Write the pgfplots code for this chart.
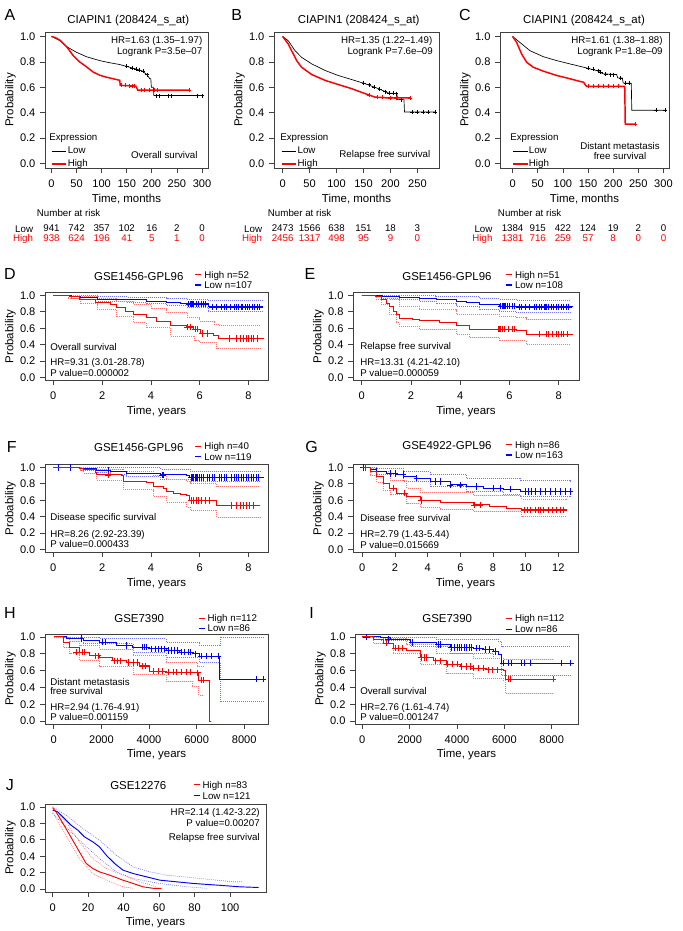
\documentclass[border=0pt]{standalone}
\usepackage{fontspec}
\setmainfont{Liberation Sans}
\usepackage{pgfplots}
\pgfplotsset{compat=1.18}
\usetikzlibrary{calc}
% 1 px of the reference = 0.75pt
\tikzset{px/.style={x=0.75pt, y=-0.75pt}}
\newcommand\fTick{\fontsize{8.3}{9}\selectfont}
\newcommand\fLab{\fontsize{8.6}{10}\selectfont}
\newcommand\fAnn{\fontsize{7.3}{8.5}\selectfont}
\newcommand\fLet{\fontsize{12}{14}\selectfont}
% short legend key: colour, then text
\newcommand\key[2]{\textcolor{#1}{\rule[0.55ex]{4.5pt}{0.8pt}}\hspace{2.3pt}#2}
\pgfplotsset{
  km/.style={
    scale only axis, anchor=north west, clip mode=individual,
    axis line style={line width=0.5pt, black!75},
    tick style={line width=0.5pt, black!75},
    tick align=outside, major tick length=3.5pt, tick pos=left,
    ymin=-0.035, ymax=1.035, ytick={0,0.2,0.4,0.6,0.8,1.0},
    yticklabel style={/pgf/number format/fixed, /pgf/number format/fixed zerofill,
      /pgf/number format/precision=1, inner sep=3.5pt},
    xticklabel style={inner sep=2pt, yshift=-3pt},
    ticklabel style={font=\fTick},
    /pgf/number format/assume math mode=true,
    label style={font=\fLab},
    xlabel style={at={($(rel axis cs:0.5,0)+(0pt,-23pt)$)}, anchor=center},
    ylabel style={at={($(rel axis cs:0,0.5)+(-26pt,0pt)$)}, anchor=center},
    ylabel={Probability},
  },
  top/.style={km,
    legend style={draw=none, fill=none, font=\fAnn, inner sep=0pt, row sep=2.3pt,
      nodes={inner sep=0.5pt}},
    legend cell align=left,
    legend image code/.code={\draw[##1] (0pt,0pt) -- (11pt,0pt);},
  },
  low/.style={km, xlabel={Time, years}},
  cur/.style={const plot, line width=0.7pt},
  ci/.style={const plot, line width=0.5pt, dash pattern=on 0.6pt off 0.9pt},
  cen/.style={only marks, mark=+, mark size=2.4pt, mark options={line width=0.45pt}},
  cens/.style={only marks, mark=+, mark size=1.5pt, mark options={line width=0.4pt}},
}
\tikzset{ann/.style={font=\fAnn, anchor=west, inner sep=0pt}}
\begin{document}
\begin{tikzpicture}
\useasboundingbox (0pt,0pt) rectangle (511.5pt,-698.25pt);

%%%%%%%%%%%%%%%% A
\begin{axis}[top, at={(33.75pt,-24pt)}, width=122.25pt, height=102pt,
  xmin=-13, xmax=312, xtick={0,50,...,300}, xlabel={Time, months},
  legend style={at={(rel axis cs:0.035,0.165)}, anchor=north west}]
\addlegendimage{black, line width=0.5pt}\addlegendentry{Low}
\addlegendimage{red, line width=1.1pt}\addlegendentry{High}
\addplot[black, line width=0.5pt] coordinates {(0,1) (5,0.99) (17,0.966) (30,0.92) (50,0.875) (70,0.84) (96,0.81) (115,0.794) (136,0.779) (160,0.753) (172,0.74) (180,0.73) (190,0.70) (196,0.667) (198,0.667) (199,0.60) (203,0.60) (204,0.535) (303,0.535)};
\addplot[black, cens] coordinates {(150,0.765) (160,0.753) (168,0.745) (175,0.737) (182,0.725) (190,0.70) (208,0.535) (215,0.535) (232,0.535) (238,0.535) (290,0.535) (300,0.535)};
\addplot[red, line width=1.1pt] coordinates {(0,1) (8,0.99) (17,0.97) (30,0.92) (43,0.85) (56,0.80) (70,0.76) (83,0.72) (96,0.695) (109,0.68) (125,0.665) (136,0.655) (137,0.615) (168,0.61) (172,0.577) (275,0.577)};
\addplot[red, cens] coordinates {(140,0.615) (148,0.615) (155,0.612) (160,0.61) (165,0.61) (178,0.577) (185,0.577) (195,0.577) (205,0.577) (210,0.577) (275,0.577)};
\node[font=\fAnn] at (axis cs:0,-0.51) {941};
\node[font=\fAnn] at (axis cs:50,-0.51) {742};
\node[font=\fAnn] at (axis cs:100,-0.51) {357};
\node[font=\fAnn] at (axis cs:150,-0.51) {102};
\node[font=\fAnn] at (axis cs:200,-0.51) {16};
\node[font=\fAnn] at (axis cs:250,-0.51) {2};
\node[font=\fAnn] at (axis cs:300,-0.51) {0};
\node[font=\fAnn, red] at (axis cs:0,-0.588) {938};
\node[font=\fAnn, red] at (axis cs:50,-0.588) {624};
\node[font=\fAnn, red] at (axis cs:100,-0.588) {196};
\node[font=\fAnn, red] at (axis cs:150,-0.588) {41};
\node[font=\fAnn, red] at (axis cs:200,-0.588) {5};
\node[font=\fAnn, red] at (axis cs:250,-0.588) {1};
\node[font=\fAnn, red] at (axis cs:300,-0.588) {0};
\end{axis}
\begin{scope}[px]
\node[font=\fLet] at (10,15) {A};
\node[font=\fLab] at (128.3,21) {CIAPIN1 (208424\_s\_at)};
\node[font=\fAnn, anchor=east] at (207,40.7) {HR=1.63 (1.35--1.97)};
\node[font=\fAnn, anchor=east] at (207,51.7) {Logrank P=3.5e--07};
\node[font=\fAnn, anchor=east] at (202.3,155) {Overall survival};
\node[ann] at (49,137.7) {Expression};
\node[ann] at (36.7,213) {Number at risk};
\node[font=\fAnn, anchor=east, inner sep=0pt] at (33.3,229) {Low};
\node[font=\fAnn, anchor=east, inner sep=0pt, red] at (33.3,239) {High};
\end{scope}

%%%%%%%%%%%%%%%% B
\begin{axis}[top, at={(205.5pt,-24pt)}, width=123.75pt, height=102pt,
  xmin=-16, xmax=290, xtick={0,50,...,250}, xlabel={Time, months},
  legend style={at={(rel axis cs:0.04,0.165)}, anchor=north west}]
\addlegendimage{black, line width=0.5pt}\addlegendentry{Low}
\addlegendimage{red, line width=1.1pt}\addlegendentry{High}
\addplot[black, line width=0.5pt] coordinates {(0,1) (10.5,0.966) (23,0.888) (35,0.836) (54,0.784) (79,0.732) (103,0.693) (128,0.661) (153,0.628) (178,0.589) (196,0.555) (212,0.55) (213,0.503) (225,0.503) (226,0.406) (283,0.406)};
\addplot[black, cens] coordinates {(150,0.63) (160,0.62) (170,0.60) (180,0.585) (190,0.565) (198,0.555) (205,0.552) (210,0.55) (220,0.503) (240,0.406) (250,0.406) (260,0.406) (270,0.406) (283,0.406)};
\addplot[red, line width=1.1pt] coordinates {(0,1) (10.5,0.94) (16.7,0.888) (26,0.81) (35,0.758) (54,0.70) (79,0.654) (103,0.622) (128,0.589) (153,0.55) (171,0.523) (196,0.516) (236,0.516)};
\addplot[red, cens] coordinates {(160,0.54) (175,0.522) (185,0.52) (200,0.516) (210,0.516) (236,0.516)};
\node[font=\fAnn] at (axis cs:0,-0.51) {2473};
\node[font=\fAnn] at (axis cs:50,-0.51) {1566};
\node[font=\fAnn] at (axis cs:100,-0.51) {638};
\node[font=\fAnn] at (axis cs:150,-0.51) {151};
\node[font=\fAnn] at (axis cs:200,-0.51) {18};
\node[font=\fAnn] at (axis cs:250,-0.51) {3};
\node[font=\fAnn, red] at (axis cs:0,-0.588) {2456};
\node[font=\fAnn, red] at (axis cs:50,-0.588) {1317};
\node[font=\fAnn, red] at (axis cs:100,-0.588) {498};
\node[font=\fAnn, red] at (axis cs:150,-0.588) {95};
\node[font=\fAnn, red] at (axis cs:200,-0.588) {9};
\node[font=\fAnn, red] at (axis cs:250,-0.588) {0};
\end{axis}
\begin{scope}[px]
\node[font=\fLet] at (236.7,15) {B};
\node[font=\fLab] at (358.7,21) {CIAPIN1 (208424\_s\_at)};
\node[font=\fAnn, anchor=east] at (437,40.7) {HR=1.35 (1.22--1.49)};
\node[font=\fAnn, anchor=east] at (437.5,51.7) {Logrank P=7.6e--09};
\node[font=\fAnn, anchor=east] at (435,155) {Relapse free survival};
\node[ann] at (280,137.7) {Expression};
\node[ann] at (267.7,213) {Number at risk};
\node[font=\fAnn, anchor=east, inner sep=0pt] at (262.3,229) {Low};
\node[font=\fAnn, anchor=east, inner sep=0pt, red] at (262.3,239) {High};
\end{scope}

%%%%%%%%%%%%%%%% C
\begin{axis}[top, at={(375pt,-24pt)}, width=126.75pt, height=102pt,
  xmin=-25, xmax=311, xtick={0,50,...,300}, xlabel={Time, months},
  legend style={at={(rel axis cs:0.07,0.165)}, anchor=north west}]
\addlegendimage{black, line width=0.5pt}\addlegendentry{Low}
\addlegendimage{red, line width=1.1pt}\addlegendentry{High}
\addplot[black, line width=0.5pt] coordinates {(0,1) (14.6,0.953) (34.5,0.888) (61,0.841) (87.6,0.81) (114,0.784) (141,0.758) (167,0.732) (180,0.706) (207,0.70) (209,0.674) (218,0.674) (220,0.633) (236,0.633) (237,0.42) (303,0.42)};
\addplot[black, cens] coordinates {(150,0.75) (160,0.74) (170,0.73) (175,0.72) (185,0.705) (195,0.70) (200,0.70) (215,0.674) (225,0.633) (232,0.633) (285,0.42) (303,0.42)};
\addplot[red, line width=1.1pt] coordinates {(0,1) (8,0.953) (18,0.862) (28,0.797) (41,0.758) (61,0.727) (87.6,0.693) (114,0.667) (135,0.645) (141,0.64) (147,0.607) (223,0.607) (224,0.31) (243.5,0.31)};
\addplot[red, cens] coordinates {(150,0.607) (160,0.607) (170,0.607) (180,0.607) (190,0.607) (200,0.607) (210,0.607) (243,0.31)};
\node[font=\fAnn] at (axis cs:0,-0.51) {1384};
\node[font=\fAnn] at (axis cs:50,-0.51) {915};
\node[font=\fAnn] at (axis cs:100,-0.51) {422};
\node[font=\fAnn] at (axis cs:150,-0.51) {124};
\node[font=\fAnn] at (axis cs:200,-0.51) {19};
\node[font=\fAnn] at (axis cs:250,-0.51) {2};
\node[font=\fAnn] at (axis cs:300,-0.51) {0};
\node[font=\fAnn, red] at (axis cs:0,-0.588) {1381};
\node[font=\fAnn, red] at (axis cs:50,-0.588) {716};
\node[font=\fAnn, red] at (axis cs:100,-0.588) {259};
\node[font=\fAnn, red] at (axis cs:150,-0.588) {57};
\node[font=\fAnn, red] at (axis cs:200,-0.588) {8};
\node[font=\fAnn, red] at (axis cs:250,-0.588) {0};
\node[font=\fAnn, red] at (axis cs:300,-0.588) {0};
\end{axis}
\begin{scope}[px]
\node[font=\fLet] at (465,15) {C};
\node[font=\fLab] at (584,21) {CIAPIN1 (208424\_s\_at)};
\node[font=\fAnn, anchor=east] at (667.3,40.7) {HR=1.61 (1.38--1.88)};
\node[font=\fAnn, anchor=east] at (667.3,51.7) {Logrank P=1.8e--09};
\node[font=\fAnn] at (620,145.7) {Distant metastasis};
\node[font=\fAnn] at (620,155.7) {free survival};
\node[ann] at (510,137.7) {Expression};
\node[ann] at (497.7,213) {Number at risk};
\node[font=\fAnn, anchor=east, inner sep=0pt] at (492.7,229) {Low};
\node[font=\fAnn, anchor=east, inner sep=0pt, red] at (492.7,239) {High};
\end{scope}

%%%%%%%%%%%%%%%% D
\begin{axis}[low, at={(33.75pt,-219.375pt)}, width=167.25pt, height=66pt,
  xmin=-0.34, xmax=8.8, xtick={0,2,...,8}]
\addplot[ci, blue!55] coordinates {(0,1) (1.8,0.99) (3.0,0.98) (4.65,0.96) (5.5,0.95) (6.35,0.94) (8.6,0.94)};
\addplot[ci, blue!55] coordinates {(0,1) (0.75,0.97) (1.1,0.955) (1.8,0.93) (3.0,0.92) (3.8,0.9) (4.65,0.88) (5.5,0.85) (6.35,0.81) (8.6,0.81)};
\addplot[ci, red!55] coordinates {(0,1) (1.1,0.99) (1.8,0.97) (2.6,0.93) (3.3,0.888) (4.0,0.84) (4.65,0.788) (5.5,0.728) (6.0,0.69) (6.6,0.648) (6.8,0.636) (8.5,0.636)};
\addplot[ci, red!55] coordinates {(0,1) (0.6,0.96) (1.1,0.9) (1.8,0.828) (2.6,0.748) (3.3,0.67) (3.8,0.608) (4.8,0.508) (5.8,0.45) (6.0,0.428) (6.7,0.356) (8.5,0.356)};
\addplot[cur, blue] coordinates {(0,1) (0.75,0.99) (1.1,0.976) (1.8,0.956) (3.0,0.948) (3.8,0.928) (4.65,0.916) (5.2,0.906) (5.5,0.896) (6.35,0.86) (8.6,0.86)};
\addplot[cen, blue] coordinates {(5.55,0.896) (5.6,0.896) (5.65,0.896) (5.7,0.896) (5.75,0.896) (5.85,0.896) (5.95,0.896) (6.05,0.896) (6.15,0.896) (6.25,0.896) (6.5,0.86) (6.7,0.86) (6.9,0.86) (7.0,0.86) (7.1,0.86) (7.25,0.86) (7.4,0.86) (7.5,0.86) (7.6,0.86) (7.7,0.86) (7.75,0.86) (7.85,0.86) (7.95,0.86) (8.05,0.86) (8.15,0.86) (8.25,0.86) (8.35,0.86) (8.45,0.86)};
\addplot[cur, red] coordinates {(0,1) (0.68,0.99) (1.09,0.956) (1.71,0.908) (2.33,0.89) (2.6,0.848) (2.94,0.808) (3.28,0.768) (3.83,0.728) (4.24,0.688) (4.79,0.636) (5.47,0.616) (5.75,0.588) (6.02,0.536) (6.57,0.516) (6.77,0.476) (8.62,0.476)};
\addplot[cen, red] coordinates {(5.5,0.616) (5.6,0.616) (5.8,0.588) (5.9,0.588) (6.1,0.536) (6.3,0.536) (7.2,0.476) (7.5,0.476) (7.65,0.476) (7.8,0.476) (7.9,0.476) (8.0,0.476) (8.1,0.476) (8.2,0.476) (8.35,0.476)};
\end{axis}
\begin{scope}[px]
\node[font=\fLet] at (10,274) {D};
\node[font=\fLab] at (138.8,276.7) {GSE1456-GPL96};
\node[ann] at (195,275.7) {\key{red}{High n=52}};
\node[ann] at (195,285) {\key{blue}{Low n=107}};
\node[ann] at (50,346.7) {Overall survival};
\node[ann] at (50,363.3) {HR=9.31 (3.01-28.78)};
\node[ann] at (50,373.3) {P value=0.000002};
\end{scope}

%%%%%%%%%%%%%%%% E
\begin{axis}[low, at={(264.75pt,-219.375pt)}, width=169.5pt, height=66pt,
  xmin=-0.35, xmax=8.83, xtick={0,2,...,8}]
\addplot[ci, blue!55] coordinates {(0,1) (1.5,0.995) (3.0,0.985) (4.8,0.96) (5.6,0.95) (6.3,0.945) (8.5,0.945)};
\addplot[ci, blue!55] coordinates {(0,1) (0.85,0.97) (1.53,0.948) (2.35,0.93) (3.02,0.9) (3.84,0.87) (4.8,0.83) (5.6,0.8) (6.28,0.79) (8.5,0.79)};
\addplot[ci, red!55] coordinates {(0,1) (0.79,0.99) (1.13,0.95) (1.53,0.87) (2.35,0.828) (3.84,0.768) (5.6,0.748) (6.28,0.73) (6.68,0.708) (8.5,0.708)};
\addplot[ci, red!55] coordinates {(0,1) (0.58,0.95) (0.79,0.89) (1.13,0.768) (1.4,0.67) (1.53,0.628) (2.35,0.588) (3.84,0.528) (4.38,0.49) (5.6,0.45) (6.68,0.408) (8.5,0.408)};
\addplot[cur, blue] coordinates {(0,1) (0.85,0.985) (1.53,0.976) (2.35,0.968) (3.02,0.948) (3.84,0.928) (4.24,0.908) (4.79,0.888) (5.6,0.868) (6.28,0.86) (8.58,0.86)};
\addplot[cen, blue] coordinates {(5.65,0.868) (5.7,0.868) (5.75,0.868) (5.8,0.868) (5.85,0.868) (5.9,0.868) (6.0,0.868) (6.1,0.868) (6.2,0.868) (6.4,0.86) (6.5,0.86) (6.65,0.86) (6.8,0.86) (7.0,0.86) (7.1,0.86) (7.2,0.86) (7.3,0.86) (7.4,0.86) (7.45,0.86) (7.5,0.86) (7.6,0.86) (7.7,0.86) (7.8,0.86) (7.9,0.86) (8.0,0.86) (8.1,0.86) (8.2,0.86) (8.3,0.86) (8.4,0.86)};
\addplot[cur, red] coordinates {(0,1) (0.58,0.99) (0.79,0.948) (1.0,0.9) (1.13,0.868) (1.3,0.81) (1.4,0.768) (1.53,0.72) (2.07,0.71) (2.35,0.695) (3.16,0.668) (3.84,0.636) (4.38,0.588) (6.28,0.568) (6.68,0.528) (8.58,0.528)};
\addplot[cen, red] coordinates {(5.55,0.588) (5.6,0.588) (5.65,0.588) (5.7,0.588) (5.8,0.588) (5.95,0.588) (6.1,0.588) (6.2,0.588) (7.2,0.528) (7.5,0.528) (7.6,0.528) (7.75,0.528) (7.9,0.528) (8.0,0.528) (8.1,0.528) (8.2,0.528) (8.35,0.528)};
\end{axis}
\begin{scope}[px]
\node[font=\fLet] at (310,274) {E};
\node[font=\fLab] at (447,276.7) {GSE1456-GPL96};
\node[ann] at (505.7,275.7) {\key{red}{High n=51}};
\node[ann] at (505.7,285) {\key{blue}{Low n=108}};
\node[ann] at (360,346.7) {Relapse free survival};
\node[ann] at (360,363.3) {HR=13.31 (4.21-42.10)};
\node[ann] at (360,373.3) {P value=0.000059};
\end{scope}

%%%%%%%%%%%%%%%% F
\begin{axis}[low, at={(33.75pt,-348.375pt)}, width=167.25pt, height=66pt,
  xmin=-0.34, xmax=8.8, xtick={0,2,...,8}]
\addplot[ci, blue!55] coordinates {(0,1) (2.3,0.995) (4.4,0.98) (5.6,0.955) (8.5,0.955)};
\addplot[ci, blue!55] coordinates {(0,1) (1.09,0.97) (1.78,0.935) (2.33,0.91) (3.0,0.89) (4.38,0.86) (5.6,0.83) (8.5,0.83)};
\addplot[ci, red!55] coordinates {(0,1) (1.23,0.995) (1.78,0.98) (2.87,0.95) (4.1,0.9) (4.65,0.86) (5.47,0.828) (5.6,0.8) (6.7,0.768) (8.48,0.768)};
\addplot[ci, red!55] coordinates {(0,1) (1.09,0.96) (1.23,0.93) (1.78,0.848) (2.87,0.728) (4.1,0.648) (4.65,0.58) (5.47,0.52) (5.6,0.48) (6.7,0.396) (8.48,0.396)};
\addplot[cur, blue] coordinates {(0,1) (1.09,0.99) (1.78,0.968) (2.33,0.948) (3.0,0.928) (4.38,0.908) (5.47,0.896) (5.6,0.876) (8.62,0.876)};
\addplot[cen, blue] coordinates {(0.2,1) (0.7,1) (2.25,0.968) (4.45,0.908) (4.5,0.908) (5.65,0.876) (5.7,0.876) (5.75,0.876) (5.8,0.876) (5.85,0.876) (5.9,0.876) (6.0,0.876) (6.05,0.876) (6.15,0.876) (6.3,0.876) (6.4,0.876) (6.5,0.876) (6.6,0.876) (6.8,0.876) (6.9,0.876) (7.0,0.876) (7.1,0.876) (7.3,0.876) (7.4,0.876) (7.5,0.876) (7.6,0.876) (7.7,0.876) (7.8,0.876) (7.9,0.876) (8.0,0.876) (8.1,0.876) (8.2,0.876) (8.3,0.876) (8.4,0.876)};
\addplot[cur, red] coordinates {(0,1) (1.09,0.99) (1.23,0.97) (1.71,0.94) (1.78,0.908) (2.8,0.9) (2.87,0.828) (3.83,0.82) (4.1,0.768) (4.51,0.748) (4.65,0.708) (4.92,0.688) (5.2,0.67) (5.47,0.656) (5.6,0.596) (6.7,0.536) (8.48,0.536)};
\addplot[cen, red] coordinates {(2.25,0.908) (5.65,0.596) (5.75,0.596) (5.85,0.596) (5.95,0.596) (6.05,0.596) (6.25,0.596) (6.4,0.596) (7.3,0.536) (7.5,0.536) (7.65,0.536) (7.8,0.536) (7.9,0.536) (8.05,0.536) (8.2,0.536)};
\end{axis}
\begin{scope}[px]
\node[font=\fLet] at (11.7,446.7) {F};
\node[font=\fLab] at (138.8,447.7) {GSE1456-GPL96};
\node[ann] at (195,447) {\key{red}{High n=40}};
\node[ann] at (195,456.7) {\key{blue}{Low n=119}};
\node[ann] at (50,517.7) {Disease specific survival};
\node[ann] at (50,535) {HR=8.26 (2.92-23.39)};
\node[ann] at (50,544.3) {P value=0.000433};
\end{scope}

%%%%%%%%%%%%%%%% G
\begin{axis}[low, at={(264.75pt,-348.375pt)}, width=168.75pt, height=66pt,
  xmin=-0.57, xmax=13.2, xtick={0,2,...,12}]
\addplot[ci, blue!55] coordinates {(0,1) (0.88,0.99) (2.51,0.948) (4.14,0.91) (6.39,0.868) (9.65,0.84) (12.7,0.828)};
\addplot[ci, blue!55] coordinates {(0,1) (0.47,0.95) (0.88,0.91) (2.51,0.828) (4.14,0.77) (6.39,0.708) (8.63,0.67) (9.65,0.648) (12.7,0.64)};
\addplot[ci, red!55] coordinates {(0,1) (0.47,0.99) (0.88,0.948) (1.69,0.848) (2.71,0.748) (3.53,0.7) (6.8,0.656) (9.76,0.616) (12.5,0.596)};
\addplot[ci, red!55] coordinates {(0,1) (0.47,0.9) (0.88,0.82) (1.29,0.72) (1.69,0.668) (2.71,0.56) (3.53,0.516) (4.76,0.49) (6.8,0.464) (9.76,0.404) (12.5,0.396)};
\addplot[cur, blue] coordinates {(0,1) (0.47,0.976) (0.88,0.948) (1.49,0.928) (2.1,0.915) (2.51,0.888) (3.33,0.868) (4.14,0.828) (5.37,0.788) (6.39,0.768) (7.41,0.748) (8.63,0.736) (9.65,0.708) (12.7,0.708)};
\addplot[cen, blue] coordinates {(0.06,1) (0.88,0.948) (1.7,0.928) (2.0,0.928) (2.5,0.915) (3.33,0.868) (4.45,0.828) (4.76,0.828) (5.37,0.788) (5.98,0.788) (7.0,0.768) (8.0,0.748) (8.43,0.748) (9.04,0.736) (9.96,0.708) (10.16,0.708) (10.37,0.708) (10.57,0.708) (10.88,0.708) (11.18,0.708) (11.49,0.708) (11.8,0.708) (12.1,0.708) (12.4,0.708) (12.7,0.708)};
\addplot[cur, red] coordinates {(0,1) (0.47,0.948) (0.88,0.888) (1.29,0.808) (1.69,0.748) (2.1,0.688) (2.71,0.648) (3.53,0.596) (4.76,0.576) (6.8,0.544) (7.8,0.524) (8.84,0.504) (9.76,0.484) (12.5,0.484)};
\addplot[cen, red] coordinates {(0.16,1) (1.9,0.748) (2.57,0.688) (3.6,0.596) (6.85,0.544) (7.2,0.544) (9.9,0.484) (10.1,0.484) (10.3,0.484) (10.6,0.484) (10.75,0.484) (10.9,0.484) (11.1,0.484) (11.4,0.484) (11.6,0.484) (11.9,0.484) (12.1,0.484) (12.3,0.484)};
\end{axis}
\begin{scope}[px]
\node[font=\fLet] at (311.7,446.7) {G};
\node[font=\fLab] at (447,446) {GSE4922-GPL96};
\node[ann] at (505.7,445.7) {\key{red}{High n=86}};
\node[ann] at (505.7,455) {\key{blue}{Low n=163}};
\node[ann] at (360,517.7) {Disease free survival};
\node[ann] at (360,535) {HR=2.79 (1.43-5.44)};
\node[ann] at (360,544.7) {P value=0.015669};
\end{scope}

%%%%%%%%%%%%%%%% H
\begin{axis}[low, at={(33.75pt,-475.5pt)}, width=167.25pt, height=67.5pt,
  xmin=-370, xmax=9000, xtick={0,2000,...,8000}, scaled x ticks=false,
  xticklabel style={/pgf/number format/set thousands separator={}}]
\addplot[ci, blue!55] coordinates {(0,1) (1926,0.98) (4718,0.94) (6114,0.9) (6980,1.0) (8800,1.0)};
\addplot[ci, blue!55] coordinates {(0,1) (1228,0.92) (3322,0.818) (4718,0.757) (6114,0.696) (6980,0.23) (8800,0.23)};
\addplot[ci, red!55] coordinates {(0,1) (391,0.99) (670,0.95) (1089,0.9) (1926,0.858) (3322,0.777) (4718,0.696) (6044,0.656) (6300,0.656)};
\addplot[ci, red!55] coordinates {(0,1) (391,0.88) (670,0.8) (1089,0.72) (1926,0.656) (3322,0.555) (4718,0.474) (5800,0.413) (6086,0.31) (6300,0.31)};
\addplot[cur, blue] coordinates {(0,1) (530,0.98) (1228,0.96) (1926,0.94) (2624,0.9) (3322,0.88) (4020,0.86) (4718,0.84) (5276,0.818) (5835,0.8) (6114,0.77) (6980,0.50) (8906,0.50)};
\addplot[cen, blue] coordinates {(1150,0.98) (2050,0.94) (2150,0.94) (3050,0.9) (3700,0.88) (3800,0.88) (3900,0.88) (4100,0.86) (4250,0.86) (4400,0.86) (4500,0.86) (4650,0.86) (4800,0.84) (4950,0.84) (5050,0.84) (5200,0.84) (5350,0.818) (5500,0.818) (5650,0.818) (5750,0.818) (5950,0.8) (6200,0.77) (6400,0.77) (6600,0.77) (6900,0.77) (8500,0.5) (8800,0.5)};
\addplot[cur, red] coordinates {(0,1) (391,0.94) (670,0.878) (1089,0.818) (1508,0.777) (1926,0.757) (2485,0.717) (3043,0.696) (3601,0.656) (4020,0.595) (4718,0.583) (6044,0.575) (6086,0.486) (6561,0.0) (6562,0.0)};
\addplot[cen, red] coordinates {(950,0.818) (1200,0.818) (1300,0.818) (1750,0.777) (1850,0.777) (2550,0.717) (2650,0.717) (2800,0.717) (3150,0.696) (3350,0.696) (3500,0.696) (3700,0.656) (3850,0.656) (4200,0.595) (4400,0.595) (4550,0.595) (4800,0.583) (5000,0.583) (5150,0.583) (5350,0.583) (5550,0.583) (5750,0.583) (6050,0.575) (6200,0.486) (6300,0.486)};
\end{axis}
\begin{scope}[px]
\node[font=\fLet] at (10,613.3) {H};
\node[font=\fLab] at (139.2,619) {GSE7390};
\node[ann] at (198.3,619) {\key{red}{High n=112}};
\node[ann] at (198.3,628.3) {\key{blue}{Low n=86}};
\node[ann] at (50,681.7) {Distant metastasis};
\node[ann] at (50,691) {free survival};
\node[ann] at (50,708.3) {HR=2.94 (1.76-4.91)};
\node[ann] at (50,717.3) {P value=0.001159};
\end{scope}

%%%%%%%%%%%%%%%% I
\begin{axis}[low, at={(266.25pt,-475.5pt)}, width=167.25pt, height=67.5pt,
  xmin=-309, xmax=9110, xtick={0,2000,...,8000}, scaled x ticks=false,
  xticklabel style={/pgf/number format/set thousands separator={}}]
\addplot[ci, blue!55] coordinates {(0,1) (1169,1.0) (3140,0.97) (5745,0.95) (5885,0.888) (8800,0.888)};
\addplot[ci, blue!55] coordinates {(0,1) (746,0.96) (2013,0.888) (3703,0.81) (5533,0.749) (5885,0.542) (8800,0.542)};
\addplot[ci, red!55] coordinates {(0,1) (887,0.98) (1873,0.908) (3140,0.8) (4689,0.749) (5956,0.729) (8068,0.729)};
\addplot[ci, red!55] coordinates {(0,1) (465,0.93) (1309,0.8) (2436,0.67) (3562,0.57) (4689,0.51) (5956,0.49) (6026,0.33) (8068,0.33)};
\addplot[cur, blue] coordinates {(0,1) (746,0.988) (1169,0.968) (2013,0.936) (3140,0.908) (3703,0.876) (4689,0.868) (5111,0.849) (5533,0.829) (5745,0.789) (5885,0.69) (8913,0.69)};
\addplot[cen, blue] coordinates {(180,1) (1100,0.968) (2100,0.936) (3200,0.908) (3300,0.908) (3750,0.876) (3900,0.876) (4000,0.876) (4100,0.876) (4200,0.876) (4300,0.876) (4400,0.876) (4500,0.876) (4600,0.876) (4800,0.868) (4950,0.868) (5200,0.849) (5350,0.849) (5600,0.829) (5950,0.69) (6150,0.69) (6300,0.69) (6700,0.69) (6850,0.69) (7100,0.69) (8400,0.69) (8800,0.69)};
\addplot[cur, red] coordinates {(0,1) (465,0.968) (887,0.928) (1309,0.869) (1873,0.837) (2436,0.757) (2999,0.717) (3562,0.677) (4125,0.649) (4689,0.629) (5252,0.61) (5956,0.598) (6026,0.498) (8068,0.498)};
\addplot[cen, red] coordinates {(1000,0.928) (1400,0.869) (1500,0.869) (1700,0.869) (2500,0.757) (2600,0.757) (2700,0.757) (3100,0.717) (3300,0.717) (3600,0.677) (3800,0.677) (4000,0.677) (4200,0.649) (4400,0.649) (4550,0.649) (4700,0.629) (4900,0.629) (5100,0.629) (5300,0.61) (5500,0.61) (5700,0.61) (6150,0.498) (6250,0.498) (8060,0.498)};
\end{axis}
\begin{scope}[px]
\node[font=\fLet] at (311.7,613) {I};
\node[font=\fLab] at (447.2,619) {GSE7390};
\node[ann] at (505.7,619) {\key{red}{High n=112}};
\node[ann] at (505.7,629.3) {\key{blue}{Low n=86}};
\node[ann] at (360,690.7) {Overall survival};
\node[ann] at (360,707.7) {HR=2.76 (1.61-4.74)};
\node[ann] at (360,717.3) {P value=0.001247};
\end{scope}

%%%%%%%%%%%%%%%% J
\begin{axis}[low, at={(33.75pt,-603pt)}, width=165.75pt, height=66pt,
  xmin=-4.3, xmax=120.2, xtick={0,20,...,100}]
\addplot[blue!55, line width=0.5pt, dash pattern=on 0.6pt off 0.9pt] coordinates {(0,1) (7.5,0.9) (17,0.737) (26.4,0.595) (35.8,0.413) (45.3,0.271) (54.7,0.21) (64.2,0.17) (83,0.13) (102,0.089) (107,0.089)};
\addplot[blue!55, line width=0.5pt, dash pattern=on 0.6pt off 0.9pt] coordinates {(0,0.92) (7.5,0.757) (17,0.555) (26.4,0.372) (35.8,0.21) (45.3,0.13) (60,0.069) (75,0.03) (87,0.01)};
\addplot[red!55, line width=0.5pt, dash pattern=on 0.6pt off 0.9pt] coordinates {(0,1) (7.5,0.818) (15.1,0.575) (22.6,0.372) (30.2,0.251) (39.6,0.17) (49,0.089) (58.5,0.03)};
\addplot[red!55, line width=0.5pt, dash pattern=on 0.6pt off 0.9pt] coordinates {(0,0.94) (7.5,0.656) (15.1,0.372) (22.6,0.19) (30.2,0.109) (39.6,0.028) (45.3,0.01)};
\addplot[blue, line width=0.7pt] coordinates {(0,0.96) (2.8,0.94) (4.7,0.9) (7.5,0.84) (10.4,0.777) (14.2,0.717) (17.9,0.636) (22.6,0.575) (26.4,0.514) (30.2,0.413) (34.9,0.312) (39.6,0.231) (45.3,0.19) (52.8,0.15) (60.4,0.109) (69.8,0.089) (79.2,0.069) (92.5,0.049) (105.7,0.028) (116,0.02)};
\addplot[red, line width=0.7pt] coordinates {(0,0.99) (1.9,0.94) (4.7,0.84) (7.5,0.737) (11.3,0.595) (15.1,0.453) (18.9,0.312) (22.6,0.251) (26.4,0.21) (32.1,0.17) (39.6,0.109) (45.3,0.069) (50.9,0.028) (56.6,0.01) (61.3,0.01)};
\end{axis}
\begin{scope}[px]
\node[font=\fLet] at (10,785) {J};
\node[font=\fLab] at (138.3,785.7) {GSE12276};
\node[ann] at (193.3,785.7) {\key{red}{High n=83}};
\node[ann] at (193.3,795.7) {\key{blue}{Low n=121}};
\node[font=\fAnn, anchor=east, inner sep=0pt] at (260,813.3) {HR=2.14 (1.42-3.22)};
\node[font=\fAnn, anchor=east, inner sep=0pt] at (260,822.7) {P value=0.00207};
\node[font=\fAnn, anchor=east, inner sep=0pt] at (260,838.3) {Relapse free survival};
\end{scope}
\end{tikzpicture}
\end{document}
